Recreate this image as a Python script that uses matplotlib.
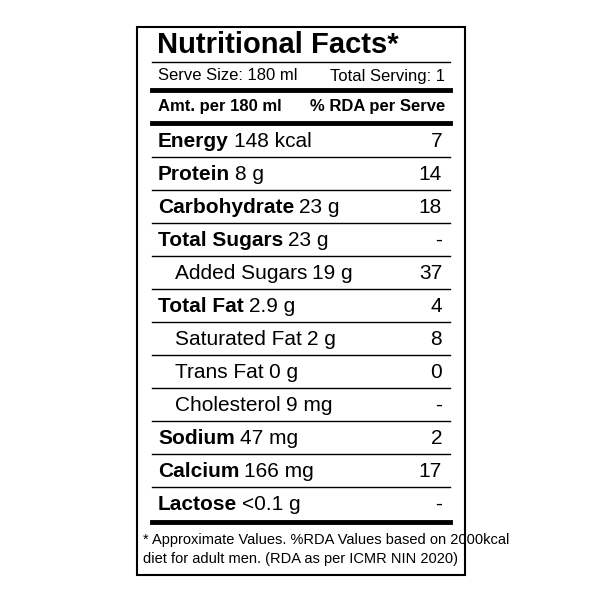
import matplotlib.pyplot as plt
from matplotlib.patches import Rectangle

plt.rcParams['font.family'] = ['Liberation Sans Narrow', 'Liberation Sans', 'DejaVu Sans']

nutrients = ['Energy', 'Protein', 'Carbohydrate', 'Total Sugars', 'Added Sugars',
             'Total Fat', 'Saturated Fat', 'Trans Fat', 'Cholesterol', 'Sodium',
             'Calcium', 'Lactose']
amounts = ['148 kcal', '8 g', '23 g', '23 g', '19 g', '2.9 g', '2 g', '0 g',
           '9 mg', '47 mg', '166 mg', '<0.1 g']
rda = ['7', '14', '18', '-', '37', '4', '8', '0', '-', '2', '17', '-']
is_main = [True, True, True, True, False, True, False, False, False, True, True, True]

fig = plt.figure(figsize=(6, 6), dpi=100)
ax = fig.add_axes([0, 0, 1, 1])
ax.set_xlim(0, 600)
ax.set_ylim(600, 0)
ax.axis('off')

ax.add_patch(Rectangle((137, 27), 328, 548, fill=False, lw=1.5, color='black'))
L, R = 152, 450

ax.text(157, 45, 'Nutritional Facts*', fontsize=21, fontweight='bold', va='center')
ax.plot([L, R], [62, 62], color='black', lw=1)
ax.text(158, 76, 'Serve Size: 180 ml', fontsize=12, va='center')
ax.text(445, 76, 'Total Serving: 1', fontsize=12, va='center', ha='right')
ax.plot([L, R], [90, 90], color='black', lw=3.5)
ax.text(158, 107, 'Amt. per 180 ml', fontsize=12, fontweight='bold', va='center')
ax.text(445, 107, '% RDA per Serve', fontsize=12, fontweight='bold', va='center', ha='right')
ax.plot([L, R], [123, 123], color='black', lw=3.5)

top, step = 124, 33
for i, (n, a, r, m) in enumerate(zip(nutrients, amounts, rda, is_main)):
    y = top + step * i + step / 2 + 1
    x = 158 if m else 175
    t = ax.text(x, y, n, fontsize=15, fontweight='bold' if m else 'normal', va='center')
    fig.canvas.draw()
    bb = t.get_window_extent().transformed(ax.transData.inverted())
    ax.text(bb.x1 + 5, y, a, fontsize=15, va='center')
    ax.text(442, y, r, fontsize=15, va='center', ha='right')
    if i < len(nutrients) - 1:
        ax.plot([L, R], [top + step * (i + 1)] * 2, color='black', lw=1)

ax.plot([L, R], [522, 522], color='black', lw=3.5)
ax.text(143, 540, '* Approximate Values. %RDA Values based on 2000kcal', fontsize=10.5, va='center')
ax.text(143, 559, 'diet for adult men. (RDA as per ICMR NIN 2020)', fontsize=10.5, va='center')

fig.savefig('out.png', dpi=100)
